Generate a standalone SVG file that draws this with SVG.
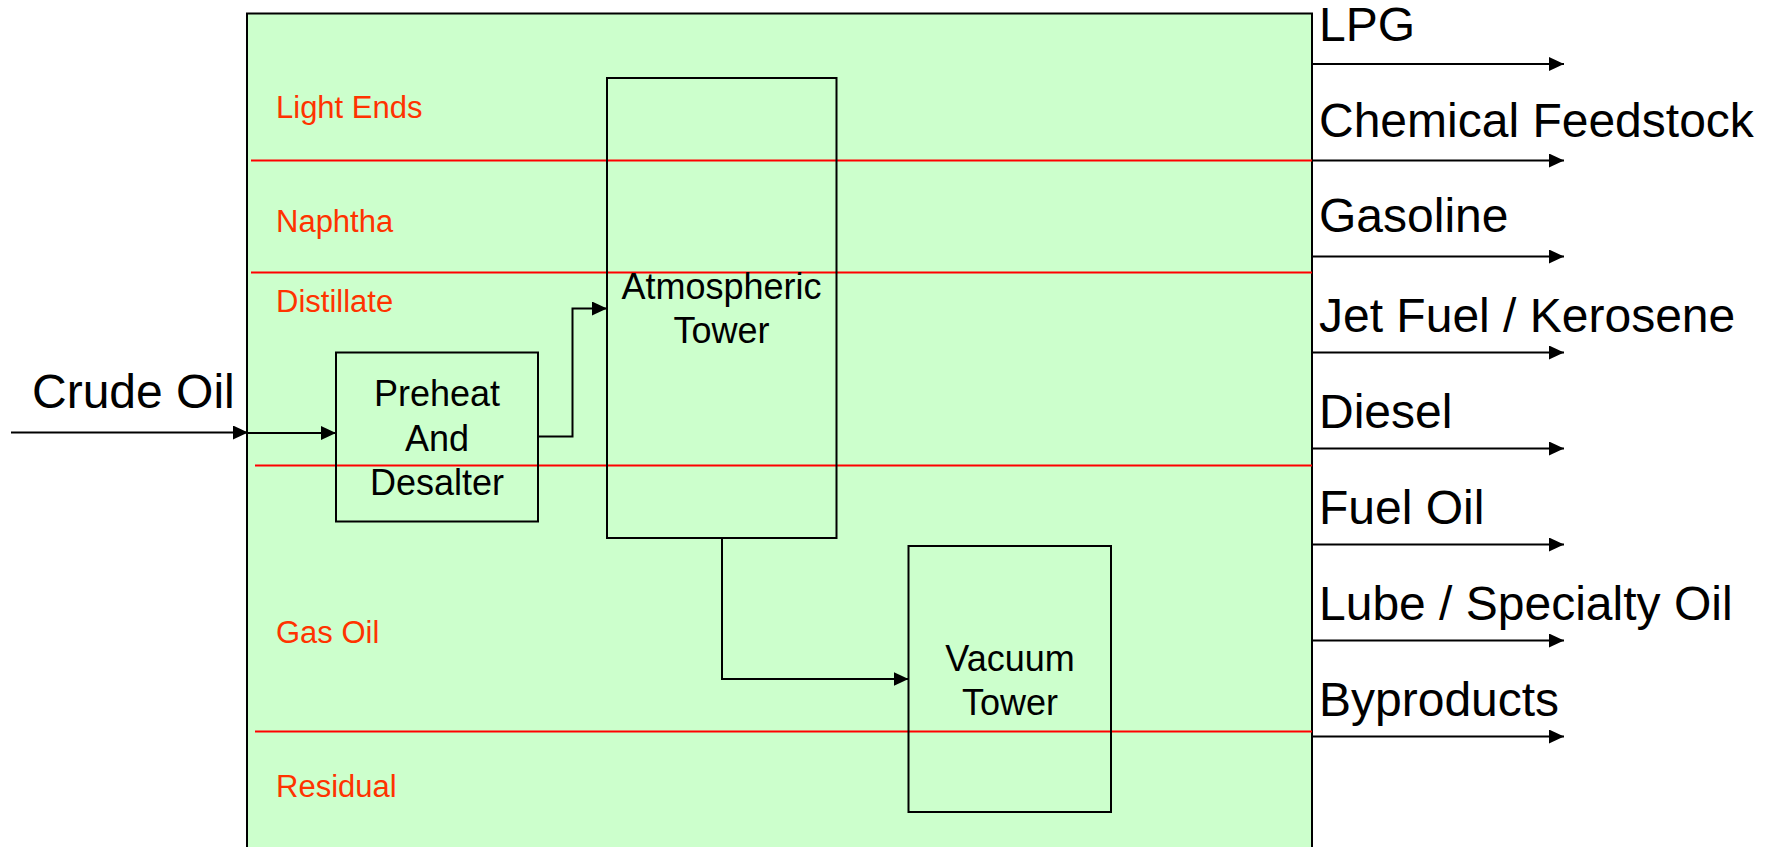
<svg xmlns="http://www.w3.org/2000/svg" width="1766" height="847" viewBox="0 0 1766 847">
<style>
.box{fill:none;stroke:#000;stroke-width:2}
.lbl{font-family:"Liberation Sans",Arial,sans-serif;fill:#000}
.big{font-size:48px}
.mid{font-size:36px;text-anchor:middle}
.red{font-family:"Liberation Sans",Arial,sans-serif;font-size:31px;fill:#FF3300}
.rl{stroke:#FF0000;stroke-width:2}
.con{fill:none;stroke:#000;stroke-width:2}
</style>
<defs>
<marker id="ah" markerUnits="userSpaceOnUse" markerWidth="16" markerHeight="14" refX="15" refY="7" orient="auto">
<path d="M0,0 L15,7 L0,14 z" fill="#000"/>
</marker>
</defs>
<g id="refinery">
<rect x="247" y="13.5" width="1065" height="860" fill="#CCFFCC" stroke="#000" stroke-width="2"/>
</g>
<g id="fractions">
<line class="rl" x1="251" y1="160.5" x2="1312" y2="160.5"/>
<line class="rl" x1="251" y1="272.5" x2="1312" y2="272.5"/>
<line class="rl" x1="255" y1="465.5" x2="1312" y2="465.5"/>
<line class="rl" x1="255" y1="731.5" x2="1312" y2="731.5"/>
<text class="red" x="276" y="118">Light Ends</text>
<text class="red" x="276" y="232">Naphtha</text>
<text class="red" x="276" y="312">Distillate</text>
<text class="red" x="276" y="643">Gas Oil</text>
<text class="red" x="276" y="797">Residual</text>
</g>
<g id="preheat">
<rect class="box" x="336" y="352.5" width="202" height="169"/>
<text class="lbl mid" x="437" y="406">Preheat</text>
<text class="lbl mid" x="437" y="451">And</text>
<text class="lbl mid" x="437" y="495">Desalter</text>
</g>
<g id="atmospheric">
<rect class="box" x="607" y="78" width="229.5" height="460"/>
<text class="lbl mid" x="721.5" y="299">Atmospheric</text>
<text class="lbl mid" x="721.5" y="343">Tower</text>
</g>
<g id="vacuum">
<rect class="box" x="908.5" y="546" width="202.5" height="266"/>
<text class="lbl mid" x="1010" y="671">Vacuum</text>
<text class="lbl mid" x="1010" y="715">Tower</text>
</g>
<g id="crude">
<text class="lbl big" x="32" y="408">Crude Oil</text>
</g>
<g id="products">
<text class="lbl big" x="1319" y="41">LPG</text>
<text class="lbl big" x="1319" y="137">Chemical Feedstock</text>
<text class="lbl big" x="1319" y="232">Gasoline</text>
<text class="lbl big" x="1319" y="332">Jet Fuel / Kerosene</text>
<text class="lbl big" x="1319" y="428">Diesel</text>
<text class="lbl big" x="1319" y="524">Fuel Oil</text>
<text class="lbl big" x="1319" y="620">Lube / Specialty Oil</text>
<text class="lbl big" x="1319" y="716">Byproducts</text>
</g>
<g id="connectors">
<line class="con" x1="11" y1="432.5" x2="248" y2="432.5" marker-end="url(#ah)"/>
<line class="con" x1="248" y1="433" x2="336" y2="433" marker-end="url(#ah)"/>
<polyline class="con" points="538,436.5 572.5,436.5 572.5,308.5 607,308.5" marker-end="url(#ah)"/>
<polyline class="con" points="722,538 722,679 908.5,679" marker-end="url(#ah)"/>
<line class="con" x1="1312" y1="64" x2="1564" y2="64" marker-end="url(#ah)"/>
<line class="con" x1="1312" y1="160.5" x2="1564" y2="160.5" marker-end="url(#ah)"/>
<line class="con" x1="1312" y1="256.5" x2="1564" y2="256.5" marker-end="url(#ah)"/>
<line class="con" x1="1312" y1="352.5" x2="1564" y2="352.5" marker-end="url(#ah)"/>
<line class="con" x1="1312" y1="448.5" x2="1564" y2="448.5" marker-end="url(#ah)"/>
<line class="con" x1="1312" y1="544.5" x2="1564" y2="544.5" marker-end="url(#ah)"/>
<line class="con" x1="1312" y1="640.5" x2="1564" y2="640.5" marker-end="url(#ah)"/>
<line class="con" x1="1312" y1="736.5" x2="1564" y2="736.5" marker-end="url(#ah)"/>
</g>
</svg>
